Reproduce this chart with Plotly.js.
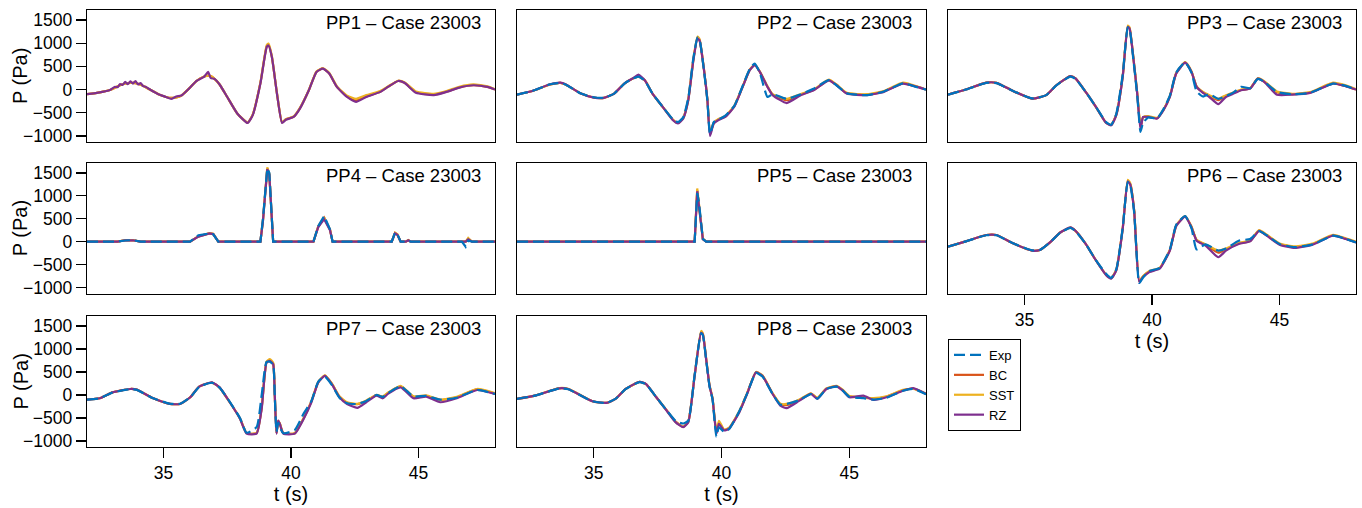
<!DOCTYPE html>
<html><head><meta charset="utf-8">
<script src="https://cdn.plot.ly/plotly-3.0.1.min.js"></script>
<style>html,body{margin:0;padding:0;background:#fff}#chart{width:1362px;height:508px}</style>
</head><body><div id="chart"></div>
<script>
// ---------- DATA ----------
const seriesNames = ['Exp', 'BC', 'SST', 'RZ'];
const panelNames = ['PP1', 'PP2', 'PP3', 'PP4', 'PP5', 'PP6', 'PP7', 'PP8'];
const caseLabel = 'Case 23003';
const xTicks = [35, 40, 45];
const yTicks = [-1000, -500, 0, 500, 1000, 1500];

const t_pp1 = [32.0, 32.5, 32.9, 33.1, 33.2, 33.3, 33.4, 33.5, 33.6, 33.7, 33.8, 33.9, 34.0, 34.1, 34.2, 34.3, 34.5, 34.8, 35.1, 35.3, 35.5, 35.7, 36.0, 36.3, 36.6, 36.75, 36.85, 37.0, 37.2, 37.5, 37.9, 38.3, 38.5, 38.8, 39.05, 39.12, 39.25, 39.45, 39.65, 39.8, 40.1, 40.35, 40.7, 41.0, 41.25, 41.5, 41.8, 42.2, 42.55, 42.95, 43.5, 43.8, 44.2, 44.45, 44.9, 45.6, 46.1, 46.6, 47.15, 47.7, 48.0];
const pp1_exp = [];
const pp1_bc = [-100, -60, -10, 40, 70, 95, 115, 130, 140, 145, 145, 140, 125, 105, 80, 50, -10, -100, -160, -180, -170, -130, 20, 190, 280, 300, 290, 230, 110, -160, -520, -710, -540, 140, 930, 960, 700, -90, -710, -640, -590, -400, -15, 385, 455, 345, 57, -150, -240, -150, -45, 57, 185, 145, -60, -110, -45, 45, 95, 57, 0];
const pp1_sst = [-100, -60, -10, 40, 70, 95, 115, 130, 140, 145, 145, 140, 125, 105, 80, 50, -10, -100, -160, -180, -170, -130, 20, 190, 280, 300, 290, 230, 110, -160, -520, -710, -540, 150, 960, 990, 720, -80, -700, -640, -580, -400, -10, 390, 460, 360, 70, -130, -200, -120, -30, 65, 190, 160, -40, -90, -30, 60, 110, 70, 10];
const pp1_rz = [-100, -60, -10, 60, 50, 120, 100, 165, 115, 175, 130, 185, 110, 140, 75, 60, -10, -100, -160, -200, -150, -130, 20, 190, 280, 380, 250, 230, 110, -160, -520, -720, -550, 130, 920, 950, 700, -90, -720, -650, -590, -410, -15, 380, 450, 345, 57, -160, -265, -160, -50, 57, 185, 145, -70, -120, -50, 43, 93, 57, 0];

const t_pp2 = [32.0, 32.6, 33.3, 33.7, 33.9, 34.5, 35.0, 35.4, 35.8, 36.2, 36.55, 36.75, 37.0, 37.3, 37.7, 38.1, 38.3, 38.5, 38.7, 38.9, 39.06, 39.14, 39.3, 39.45, 39.55, 39.7, 39.9, 40.15, 40.5, 40.8, 41.1, 41.3, 41.5, 41.8, 42.0, 42.55, 43.1, 43.6, 44.2, 44.5, 44.9, 45.7, 46.35, 47.1, 47.65, 48.0];
const pp2_exp = [-108, -30, 115, 140, 110, -86, -165, -175, -86, 130, 240, 280, 190, -86, -373, -640, -700, -600, -180, 680, 1120, 1080, 470, -250, -960, -700, -640, -560, -350, 40, 440, 560, 360, -160, -100, -200, -100, 20, 205, 90, -80, -120, -40, 135, 50, 0];
const pp2_bc = [-108, -30, 110, 145, 110, -86, -170, -180, -86, 130, 245, 280, 200, -86, -373, -650, -720, -615, -220, 640, 1110, 1070, 490, -230, -950, -720, -640, -580, -360, 25, 420, 530, 385, 60, -110, -230, -110, -10, 205, 100, -80, -110, -40, 135, 60, 0];
const pp2_sst = [-108, -30, 110, 145, 110, -86, -170, -180, -86, 130, 245, 280, 200, -86, -373, -650, -720, -615, -210, 660, 1140, 1090, 500, -220, -930, -710, -630, -570, -350, 30, 425, 540, 390, 70, -100, -200, -100, 0, 215, 110, -70, -100, -30, 150, 70, 0];
const pp2_rz = [-108, -30, 115, 150, 115, -86, -172, -180, -86, 130, 250, 320, 200, -86, -373, -660, -730, -625, -230, 630, 1100, 1060, 490, -230, -1000, -730, -650, -590, -370, 20, 415, 525, 380, 57, -120, -290, -120, -15, 200, 93, -86, -120, -50, 130, 57, 0];

const t_pp3 = [32.0, 32.7, 33.5, 33.9, 34.55, 35.3, 35.85, 36.25, 36.8, 37.0, 37.4, 37.8, 38.2, 38.4, 38.6, 38.85, 39.05, 39.12, 39.25, 39.42, 39.55, 39.65, 39.85, 40.2, 40.45, 40.7, 40.95, 41.3, 41.55, 41.75, 42.0, 42.25, 42.6, 42.9, 43.2, 43.5, 43.85, 44.15, 44.4, 44.9, 45.5, 46.2, 47.1, 47.6, 48.0];
const pp3_exp = [-108, 0, 145, 140, -30, -190, -120, 93, 280, 230, -50, -373, -700, -760, -520, 320, 1340, 1300, 740, -120, -910, -720, -600, -620, -420, -130, 370, 590, 360, -40, -150, -100, -200, -140, -60, 60, 30, 230, 170, -50, -100, -70, 130, 80, 0];
const pp3_bc = [-108, 0, 150, 145, -30, -195, -120, 93, 290, 240, -50, -373, -715, -760, -540, 280, 1360, 1320, 780, -80, -800, -600, -580, -620, -440, -150, 350, 585, 385, 60, -60, -140, -230, -140, -70, -10, 25, 240, 170, -60, -100, -65, 135, 75, 0];
const pp3_sst = [-108, 0, 150, 145, -30, -195, -120, 93, 290, 240, -50, -373, -715, -760, -540, 290, 1380, 1340, 790, -70, -790, -590, -570, -610, -430, -140, 355, 590, 390, 70, -50, -120, -200, -120, -60, 0, 30, 245, 180, -40, -90, -55, 150, 90, 10];
const pp3_rz = [-108, 0, 150, 145, -30, -195, -120, 93, 290, 240, -50, -373, -720, -770, -550, 270, 1350, 1315, 775, -86, -875, -590, -590, -625, -445, -160, 345, 580, 380, 57, -72, -160, -315, -160, -86, -15, 20, 235, 165, -110, -108, -72, 130, 72, 0];

const t_pp4 = [32.0, 33.2, 33.5, 33.8, 34.1, 36.04, 36.37, 36.8, 36.95, 37.15, 38.8, 38.9, 39.07, 39.15, 39.3, 40.88, 41.07, 41.3, 41.53, 41.63, 43.95, 44.08, 44.17, 44.3, 44.5, 44.6, 44.7, 46.7, 46.85, 46.95, 47.1, 48.0];
const pp4_exp = [0, 0, 25, 35, 0, 0, 140, 180, 160, 0, 0, 500, 1600, 1500, 0, 0, 345, 560, 270, 0, 0, 200, 165, 0, 0, 20, 0, 0, -110, 20, 0, 0];
const pp4_bc = [0, 0, 30, 30, 0, 0, 115, 180, 165, 0, 0, 460, 1590, 1470, 0, 0, 330, 520, 260, 0, 0, 190, 155, 0, 0, 30, 0, 0, 0, 60, 0, 0];
const pp4_sst = [0, 0, 35, 35, 0, 0, 115, 185, 170, 0, 0, 470, 1620, 1480, 0, 0, 335, 530, 265, 0, 0, 195, 160, 0, 0, 35, 0, 0, 0, 80, 0, 0];
const pp4_rz = [0, 0, 30, 30, 0, 0, 110, 180, 165, 0, 0, 450, 1580, 1460, 0, 0, 320, 490, 250, 0, 0, 180, 150, 0, 0, 30, 0, 0, 0, 50, 0, 0];

const t_pp5 = [32.0, 38.95, 39.05, 39.12, 39.27, 39.4, 48.0];
const pp5_exp = [0, 0, 1060, 850, 60, 0, 0];
const pp5_bc = [0, 0, 1120, 810, 57, 0, 0];
const pp5_sst = [0, 0, 1160, 830, 70, 0, 0];
const pp5_rz = [0, 0, 1100, 800, 57, 0, 0];

const t_pp6 = [32.0, 32.7, 33.5, 33.9, 34.55, 35.3, 35.6, 36.0, 36.4, 36.8, 37.0, 37.4, 37.8, 38.2, 38.4, 38.6, 38.85, 39.05, 39.15, 39.3, 39.5, 39.65, 39.9, 40.3, 40.7, 40.95, 41.3, 41.55, 41.75, 42.1, 42.6, 42.9, 43.4, 43.85, 44.2, 44.5, 45.0, 45.6, 46.3, 47.1, 47.6, 48.0];
const pp6_exp = [-108, 7, 140, 140, -36, -190, -180, -15, 195, 300, 230, -50, -400, -700, -790, -600, 300, 1300, 1220, 640, -900, -780, -640, -570, -170, 370, 560, 290, -170, -60, -195, -150, 20, 60, 230, 140, -50, -120, -60, 130, 60, -15];
const pp6_bc = [-108, 7, 145, 145, -36, -195, -180, -15, 200, 305, 235, -50, -405, -720, -795, -615, 280, 1320, 1250, 680, -860, -760, -650, -580, -185, 350, 550, 320, 30, -70, -240, -170, -40, 15, 240, 140, -50, -120, -55, 140, 65, -10];
const pp6_sst = [-108, 7, 145, 145, -36, -195, -180, -15, 200, 305, 235, -50, -405, -720, -795, -615, 290, 1350, 1270, 690, -850, -750, -640, -570, -180, 355, 560, 330, 40, -60, -195, -150, -30, 25, 250, 150, -40, -100, -40, 150, 75, 0];
const pp6_rz = [-108, 7, 145, 145, -36, -195, -180, -15, 200, 310, 237, -50, -410, -730, -805, -625, 273, 1315, 1240, 670, -875, -770, -660, -590, -195, 345, 545, 310, 20, -86, -340, -195, -50, 7, 237, 130, -65, -136, -65, 130, 57, -15];

const t_pp7 = [32.0, 32.5, 33.0, 33.7, 33.95, 34.6, 35.25, 35.65, 36.05, 36.4, 36.9, 37.2, 37.6, 38.0, 38.26, 38.65, 38.85, 39.04, 39.17, 39.3, 39.36, 39.43, 39.5, 39.56, 39.7, 40.15, 40.5, 40.8, 41.07, 41.33, 41.6, 41.9, 42.2, 42.6, 42.95, 43.35, 43.6, 43.8, 44.3, 44.8, 45.3, 45.85, 46.5, 47.3, 48.0];
const pp7_exp = [-100, -72, 50, 125, 110, -72, -190, -190, -50, 175, 265, 160, -150, -500, -820, -700, 0, 720, 720, 650, 40, -800, -600, -700, -830, -760, -400, -130, 290, 400, 220, -60, -180, -195, -130, 0, -40, 40, 190, -30, -20, -100, -60, 110, 20];
const pp7_bc = [-100, -72, 57, 130, 115, -72, -195, -195, -50, 180, 270, 160, -158, -510, -830, -830, -280, 710, 750, 680, 60, -830, -560, -620, -830, -830, -500, -140, 280, 420, 245, -40, -170, -200, -130, -5, -40, 40, 185, -40, -20, -110, -50, 120, 30];
const pp7_sst = [-100, -72, 57, 130, 115, -72, -195, -195, -50, 180, 270, 160, -158, -510, -830, -830, -270, 720, 780, 700, 70, -830, -560, -620, -830, -830, -500, -140, 285, 425, 250, -30, -160, -195, -120, 0, -30, 50, 200, -30, -10, -100, -40, 130, 40];
const pp7_rz = [-100, -72, 57, 130, 115, -72, -195, -195, -50, 180, 273, 165, -158, -517, -840, -840, -300, 700, 740, 670, 57, -840, -555, -625, -840, -840, -517, -158, 273, 415, 237, -50, -195, -280, -158, -15, -72, 22, 165, -72, -36, -158, -72, 108, 22];

const t_pp8 = [32.0, 32.7, 33.65, 34.0, 34.95, 35.5, 35.85, 36.25, 36.8, 37.05, 37.45, 37.85, 38.2, 38.5, 38.7, 38.95, 39.2, 39.27, 39.4, 39.53, 39.65, 39.8, 39.9, 40.1, 40.3, 40.7, 41.0, 41.35, 41.6, 42.0, 42.3, 42.55, 43.05, 43.5, 43.75, 44.1, 44.5, 44.75, 45.0, 45.55, 45.95, 46.45, 47.1, 47.5, 48.0];
const pp8_exp = [-86, -15, 140, 125, -136, -170, -86, 125, 280, 230, -50, -330, -560, -620, -560, 440, 1340, 1300, 760, 190, -100, -910, -700, -800, -740, -350, 30, 480, 400, 20, -210, -195, -110, 20, -80, 130, 180, 90, -40, -70, -100, -60, 90, 130, 15];
const pp8_bc = [-86, -15, 145, 130, -136, -172, -86, 130, 285, 235, -50, -330, -580, -690, -580, 420, 1360, 1320, 780, 210, -80, -820, -600, -760, -720, -360, 30, 495, 420, 30, -200, -220, -110, 30, -70, 135, 190, 100, -30, -60, -80, -40, 100, 140, 30];
const pp8_sst = [-86, -15, 150, 135, -136, -172, -86, 130, 285, 235, -50, -330, -580, -690, -580, 430, 1390, 1340, 790, 220, -70, -800, -560, -750, -710, -350, 35, 500, 425, 35, -190, -195, -100, 35, -60, 140, 200, 110, -20, -50, -70, -30, 110, 130, 30];
const pp8_rz = [-86, -15, 145, 130, -136, -172, -86, 130, 287, 237, -50, -337, -590, -700, -590, 416, 1350, 1315, 775, 200, -86, -840, -625, -770, -730, -373, 22, 490, 416, 22, -230, -287, -122, 22, -86, 130, 187, 93, -50, -15, -108, -50, 93, 150, 22];

// ---------- BUILD ----------
const panels = [
  {t: t_pp1, Exp: pp1_exp, BC: pp1_bc, SST: pp1_sst, RZ: pp1_rz, shape: 'spline'},
  {t: t_pp2, Exp: pp2_exp, BC: pp2_bc, SST: pp2_sst, RZ: pp2_rz, shape: 'spline'},
  {t: t_pp3, Exp: pp3_exp, BC: pp3_bc, SST: pp3_sst, RZ: pp3_rz, shape: 'spline'},
  {t: t_pp4, Exp: pp4_exp, BC: pp4_bc, SST: pp4_sst, RZ: pp4_rz, shape: 'linear'},
  {t: t_pp5, Exp: pp5_exp, BC: pp5_bc, SST: pp5_sst, RZ: pp5_rz, shape: 'linear'},
  {t: t_pp6, Exp: pp6_exp, BC: pp6_bc, SST: pp6_sst, RZ: pp6_rz, shape: 'spline'},
  {t: t_pp7, Exp: pp7_exp, BC: pp7_bc, SST: pp7_sst, RZ: pp7_rz, shape: 'spline'},
  {t: t_pp8, Exp: pp8_exp, BC: pp8_bc, SST: pp8_sst, RZ: pp8_rz, shape: 'spline'}
];

const colors = {Exp: '#0072BD', BC: '#D95319', SST: '#EDB120', RZ: '#7E2F8E'};
const drawOrder = ['BC', 'SST', 'RZ', 'Exp'];
const W = 1362, H = 508;
const colPx = [[87, 495], [517, 926], [948, 1356]];
const rowPx = [[10, 142], [163, 293.5], [316, 447]];
const FONT = 'Liberation Sans, Arial, sans-serif';

const traces = [];
const layout = {
  width: W, height: H,
  margin: {l: 0, r: 0, t: 0, b: 0},
  paper_bgcolor: '#fff', plot_bgcolor: '#fff',
  font: {family: FONT, color: '#000', size: 17},
  showlegend: true,
  legend: {
    x: 948 / W, y: 1 - 339 / H, xanchor: 'left', yanchor: 'top',
    bordercolor: '#000', borderwidth: 1, bgcolor: '#fff',
    font: {family: FONT, size: 13, color: '#000'},
    tracegroupgap: 0, traceorder: 'normal'
  },
  annotations: [],
  hovermode: false
};

panels.forEach((p, i) => {
  const r = Math.floor(i / 3), c = i % 3;
  const suf = i === 0 ? '' : String(i + 1);
  const showX = (i >= 5);
  const showY = (c === 0);
  drawOrder.forEach(name => {
    const y = p[name];
    if (!y || y.length === 0) return;
    traces.push({
      type: 'scatter', mode: 'lines', x: p.t, y: y,
      xaxis: 'x' + suf, yaxis: 'y' + suf,
      name: name,
      legendrank: seriesNames.indexOf(name) + 1,
      showlegend: i === 1,
      line: {
        color: colors[name], width: 2.2,
        dash: name === 'Exp' ? '11px,5px' : 'solid',
        shape: p.shape, smoothing: 0.5
      }
    });
  });
  layout['xaxis' + suf] = {
    domain: [colPx[c][0] / W, colPx[c][1] / W],
    range: [32, 48], anchor: 'y' + suf,
    showline: true, mirror: true, linecolor: '#000', linewidth: 1.3,
    showgrid: false, zeroline: false,
    ticks: showX ? 'outside' : '', ticklen: 10, tickwidth: 1.3, tickcolor: '#000',
    tickvals: xTicks, showticklabels: showX,
    tickfont: {family: FONT, size: 17.5, color: '#000'},
    title: showX ? {text: 't (s)', font: {family: FONT, size: 20, color: '#000'}, standoff: 2} : {text: ''}
  };
  layout['yaxis' + suf] = {
    domain: [1 - rowPx[r][1] / H, 1 - rowPx[r][0] / H],
    range: [-1130, 1715], anchor: 'x' + suf,
    showline: true, mirror: true, linecolor: '#000', linewidth: 1.3,
    showgrid: false, zeroline: false,
    ticks: showY ? 'outside' : '', ticklen: 10, tickwidth: 1.3, tickcolor: '#000',
    tickvals: yTicks, showticklabels: showY,
    tickfont: {family: FONT, size: 17.5, color: '#000'}
  };
  layout.annotations.push({
    xref: 'x' + suf + ' domain', yref: 'y' + suf + ' domain',
    x: 0.971, y: 1, xanchor: 'right', yanchor: 'top',
    text: panelNames[i] + ' \u2013 ' + caseLabel, showarrow: false,
    font: {family: FONT, size: 18.5, color: '#000'}
  });
  if (showY) {
    layout.annotations.push({
      xref: 'paper', yref: 'y' + suf + ' domain',
      x: 20 / W, y: 0.5, xanchor: 'center', yanchor: 'middle',
      text: 'P (Pa)', textangle: -90, showarrow: false,
      font: {family: FONT, size: 20, color: '#000'}
    });
  }
});

Plotly.newPlot('chart', traces, layout, {displayModeBar: false, staticPlot: true});
</script></body></html>
